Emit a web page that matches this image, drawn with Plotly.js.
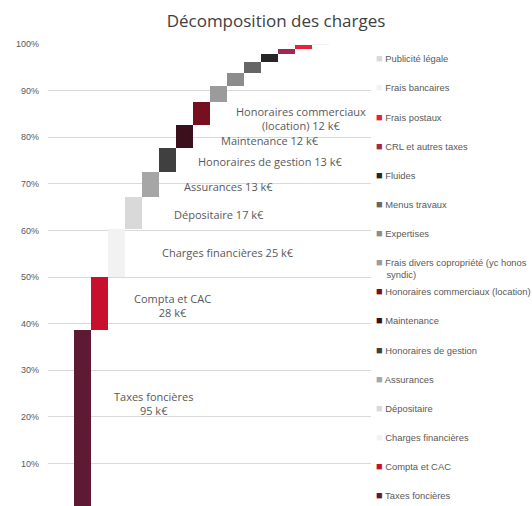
<!DOCTYPE html>
<html><head><meta charset="utf-8">
<script src="https://cdn.plot.ly/plotly-3.0.1.min.js"></script>
<style>html,body{margin:0;padding:0;overflow:hidden;background:#fff}#chart{width:532px;height:520px}</style>
</head><body><div id="chart"></div>
<script>
// ---- data ----
const categories = ["Taxes foncières","Compta et CAC","Charges financières","Dépositaire","Assurances","Honoraires de gestion","Maintenance","Honoraires commerciaux (location)","Frais divers copropriété (yc honos syndic)","Expertises","Menus travaux","Fluides","CRL et autres taxes","Frais postaux","Frais bancaires","Publicité légale"];
const legendLabels = ["Taxes foncières","Compta et CAC","Charges financières","Dépositaire","Assurances","Honoraires de gestion","Maintenance","Honoraires commerciaux (location)","Frais divers copropriété (yc honos<br>\u00A0\u00A0\u00A0\u00A0syndic)","Expertises","Menus travaux","Fluides","CRL et autres taxes","Frais postaux","Frais bancaires","Publicité légale"];
const valuesKEur = [95,28,25,17,13,13,12,12,8.6,6.5,6.0,4.4,2.7,2.0,0.3,0.1];
const colors = ["#5E1A32","#C8102E","#F2F2F2","#D9D9D9","#A6A6A6","#404040","#3C0F1D","#76101E","#9B9B9B","#8C8C8C","#666666","#262626","#A1294F","#E8203A","#F2F2F2","#D9D9D9"];
const dataLabelText = ["Taxes foncières<br>95 k€","Compta et CAC<br>28 k€","Charges financières 25 k€","Dépositaire 17 k€","Assurances 13 k€","Honoraires de gestion 13 k€","Maintenance 12 k€","Honoraires commerciaux<br>(location) 12 k€"];

// ---- derived ----
const total = valuesKEur.reduce((a,b)=>a+b,0);
const share = valuesKEur.map(v=>v/total);
const base = []; let acc = 0;
share.forEach(s=>{base.push(acc); acc += s;});

const traces = categories.map((c,i)=>({
  type:'bar', x:[c], y:[share[i]], base:[base[i]],
  marker:{color:colors[i], line:{width:0}},
  name:c, showlegend:false, hoverinfo:'skip'
}));

// label placement (layout only)
const labelPos = [[4.18,0.2285],[5.34,0.438],[8.58,0.553],[8.06,0.634],[8.64,0.695],[11.11,0.748],[11.05,0.793],[12.91,0.841]];
const annotations = dataLabelText.map((t,i)=>({
  xref:'x', yref:'y', x:labelPos[i][0], y:labelPos[i][1], text:t, showarrow:false,
  xanchor:'center', yanchor:'middle', align:'center',
  font:{family:'Open Sans', size:11, color:'#595959'}
}));

// legend drawn as annotations (top = last category)
const plotTop = 44, plotH = 466, plotL = 48, plotW = 323;
const n = categories.length;
for (let k=0;k<n;k++){
  const i = n-1-k;
  let yc = 58.3 + k*29.13;
  const lines = legendLabels[i].split('<br>').length;
  if (lines>1) yc += 6.2;
  annotations.push({
    xref:'paper', yref:'paper', x:(374-plotL)/plotW, y:(plotTop+plotH-yc)/plotH,
    xanchor:'left', yanchor:'middle', align:'left', showarrow:false,
    text:'<span style="color:'+colors[i]+';font-size:11px">■</span> '+legendLabels[i],
    font:{family:'Liberation Sans', size:9.4, color:'#595959'}
  });
}

const layout = {
  width:532, height:520,
  margin:{l:plotL, r:532-plotL-plotW, t:plotTop, b:520-plotTop-plotH},
  paper_bgcolor:'#fff', plot_bgcolor:'#fff',
  title:{text:'Décomposition des charges', x:276/532, xref:'container', xanchor:'center', y:1-21/520, yref:'container', yanchor:'middle',
    font:{family:'Open Sans', size:17, color:'#404040'}},
  barmode:'overlay', bargap:0,
  xaxis:{type:'category', range:[-2,17], showgrid:false, zeroline:false, showticklabels:false, showline:false, fixedrange:true},
  yaxis:{range:[0,1], tickformat:'.0%', dtick:0.1, tick0:0, gridcolor:'#D9D9D9', gridwidth:1, zeroline:false, showline:false,
    ticks:'', ticklabelstandoff:8, tickfont:{family:'Liberation Sans', size:9, color:'#595959'}, fixedrange:true},
  showlegend:false,
  annotations:annotations
};
Plotly.newPlot('chart', traces, layout, {displayModeBar:false, staticPlot:true});
</script></body></html>
